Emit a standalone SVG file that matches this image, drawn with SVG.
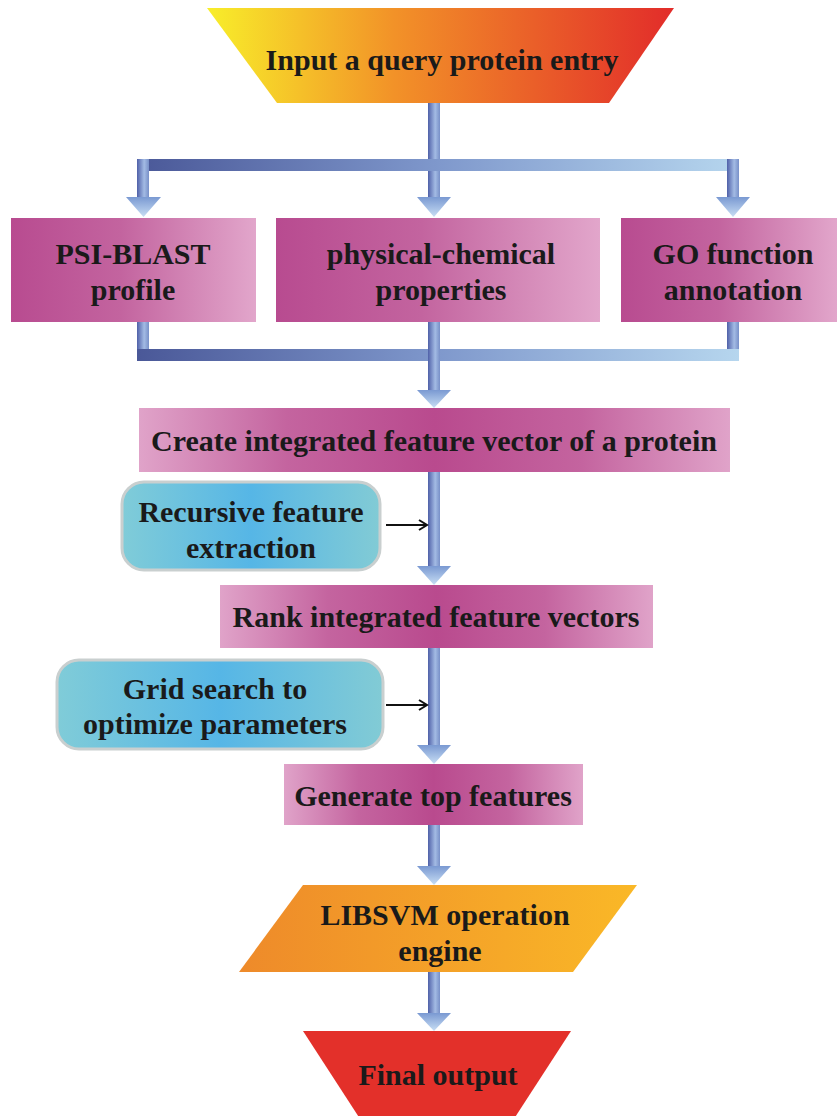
<svg xmlns="http://www.w3.org/2000/svg" width="837" height="1116" viewBox="0 0 837 1116">
<defs>
<style>
.t{font-family:"Liberation Serif","Times New Roman",serif;font-weight:bold;font-size:30px;fill:#1a1a1a;text-anchor:middle}
.thin{stroke:#111;stroke-width:2;fill:none}
</style>
<linearGradient id="gTop" x1="0" y1="0" x2="1" y2="0">
<stop offset="0" stop-color="#f8ee2a"/><stop offset="0.4" stop-color="#f29228"/><stop offset="1" stop-color="#e22c2a"/>
</linearGradient>
<linearGradient id="gPinkL" x1="0" y1="0" x2="1" y2="0">
<stop offset="0" stop-color="#b84b90"/><stop offset="0.45" stop-color="#c3649f"/><stop offset="1" stop-color="#e2a6cb"/>
</linearGradient>
<linearGradient id="gPinkC" x1="0" y1="0" x2="1" y2="0">
<stop offset="0" stop-color="#e0a3c9"/><stop offset="0.25" stop-color="#c4649f"/><stop offset="0.5" stop-color="#b94a8e"/><stop offset="0.75" stop-color="#c4649f"/><stop offset="1" stop-color="#e0a3c9"/>
</linearGradient>
<linearGradient id="gCyan" x1="0" y1="0" x2="1" y2="0">
<stop offset="0" stop-color="#80ccd8"/><stop offset="0.5" stop-color="#56b6e6"/><stop offset="1" stop-color="#82cbd5"/>
</linearGradient>
<linearGradient id="gOrange" x1="0" y1="0" x2="1" y2="0">
<stop offset="0" stop-color="#ee8a2a"/><stop offset="1" stop-color="#fab827"/>
</linearGradient>
<linearGradient id="gShaft" x1="0" y1="0" x2="1" y2="0">
<stop offset="0" stop-color="#4f60a8"/><stop offset="0.6" stop-color="#a3bbe4"/><stop offset="1" stop-color="#7890c8"/>
</linearGradient>
<linearGradient id="gBar" x1="0" y1="0" x2="1" y2="0">
<stop offset="0" stop-color="#4a5898"/><stop offset="0.5" stop-color="#7f98cc"/><stop offset="1" stop-color="#b6d6ee"/>
</linearGradient>
<linearGradient id="gHead" x1="0" y1="0" x2="0" y2="1">
<stop offset="0" stop-color="#7a99d2"/><stop offset="1" stop-color="#c8def4"/>
</linearGradient>
<marker id="open" markerWidth="12" markerHeight="12" refX="10" refY="6" orient="auto" markerUnits="userSpaceOnUse">
<polyline points="2,1 10,6 2,11" fill="none" stroke="#111" stroke-width="2"/>
</marker>
</defs>
<rect width="837" height="1116" fill="#ffffff"/>

<g id="connectors">
<!-- top fan-out -->
<rect x="428" y="103" width="12" height="95" fill="url(#gShaft)"/>
<rect x="137" y="159" width="602" height="12" fill="url(#gBar)"/>
<rect x="137" y="159" width="12" height="39" fill="url(#gShaft)"/>
<rect x="727" y="159" width="12" height="39" fill="url(#gShaft)"/>
<polygon points="126,197 161,197 143.5,217" fill="url(#gHead)"/>
<polygon points="417,197 451,197 434,217" fill="url(#gHead)"/>
<polygon points="716,197 750,197 733,217" fill="url(#gHead)"/>
<!-- fan-in -->
<rect x="137" y="322" width="12" height="39" fill="url(#gShaft)"/>
<rect x="727" y="322" width="12" height="39" fill="url(#gShaft)"/>
<rect x="137" y="349" width="602" height="12" fill="url(#gBar)"/>
<rect x="428" y="322" width="12" height="70" fill="url(#gShaft)"/>
<polygon points="417,390 451,390 434,408" fill="url(#gHead)"/>
<!-- create -> rank -->
<rect x="428" y="472" width="12" height="96" fill="url(#gShaft)"/>
<polygon points="417,566 451,566 434,585" fill="url(#gHead)"/>
<!-- rank -> generate -->
<rect x="428" y="648" width="12" height="98" fill="url(#gShaft)"/>
<polygon points="417,745 451,745 434,764" fill="url(#gHead)"/>
<!-- generate -> libsvm -->
<rect x="428" y="825" width="12" height="42" fill="url(#gShaft)"/>
<polygon points="417,866 451,866 434,885" fill="url(#gHead)"/>
<!-- libsvm -> final -->
<rect x="428" y="972" width="12" height="42" fill="url(#gShaft)"/>
<polygon points="417,1013 451,1013 434,1031" fill="url(#gHead)"/>
<!-- side arrows -->
<line class="thin" x1="386" y1="525" x2="427" y2="525" marker-end="url(#open)"/>
<line class="thin" x1="386" y1="705" x2="427" y2="705" marker-end="url(#open)"/>
</g>

<g id="input">
<polygon points="207,8 674,8 609,103 277,103" fill="url(#gTop)"/>
<text class="t" x="442" y="70">Input a query protein entry</text>
</g>

<g id="psiblast">
<rect x="11" y="218" width="245" height="104" fill="url(#gPinkL)"/>
<text class="t" x="133" y="264">PSI-BLAST</text>
<text class="t" x="133" y="300">profile</text>
</g>

<g id="physchem">
<rect x="276" y="218" width="324" height="104" fill="url(#gPinkL)"/>
<text class="t" x="441" y="264">physical-chemical</text>
<text class="t" x="441" y="300">properties</text>
</g>

<g id="go">
<rect x="621" y="218" width="216" height="104" fill="url(#gPinkL)"/>
<text class="t" x="733" y="264">GO function</text>
<text class="t" x="733" y="300">annotation</text>
</g>

<g id="create">
<rect x="139" y="408" width="591" height="64" fill="url(#gPinkC)"/>
<text class="t" x="434" y="451">Create integrated feature vector of a protein</text>
</g>

<g id="recursive">
<rect x="122" y="482" width="258" height="88" rx="22" ry="22" fill="url(#gCyan)" stroke="#c9cfcf" stroke-width="3"/>
<text class="t" x="251" y="522">Recursive feature</text>
<text class="t" x="251" y="558">extraction</text>
</g>

<g id="rank">
<rect x="220" y="585" width="433" height="63" fill="url(#gPinkC)"/>
<text class="t" x="436" y="627">Rank integrated feature vectors</text>
</g>

<g id="grid">
<rect x="57" y="660" width="326" height="89" rx="22" ry="22" fill="url(#gCyan)" stroke="#c9cfcf" stroke-width="3"/>
<text class="t" x="215" y="699">Grid search to</text>
<text class="t" x="215" y="734">optimize parameters</text>
</g>

<g id="generate">
<rect x="284" y="764" width="299" height="61" fill="url(#gPinkC)"/>
<text class="t" x="433" y="806">Generate top features</text>
</g>

<g id="libsvm">
<polygon points="303,885 637,885 573,972 239,972" fill="url(#gOrange)"/>
<text class="t" x="445" y="925">LIBSVM operation</text>
<text class="t" x="440" y="961">engine</text>
</g>

<g id="final">
<polygon points="303,1031 571,1031 510,1125 364,1125" fill="#e3302a"/>
<text class="t" x="438" y="1085">Final output</text>
</g>
</svg>
